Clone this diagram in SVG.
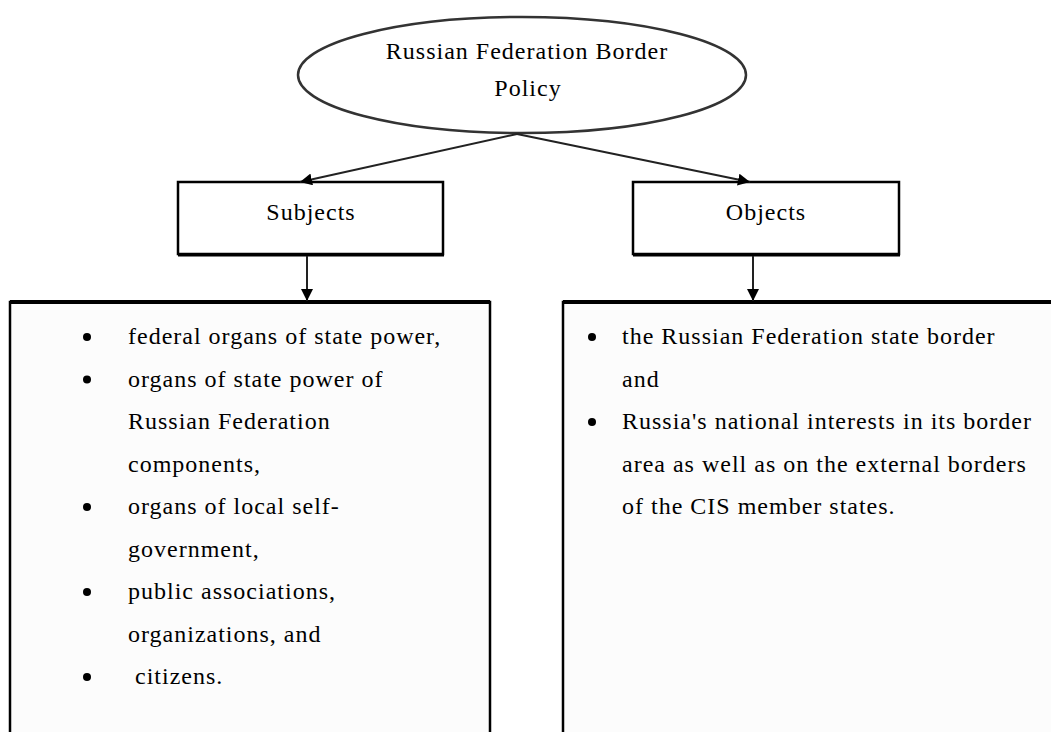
<svg xmlns="http://www.w3.org/2000/svg" width="1051" height="732" viewBox="0 0 1051 732">
<style>
  text { font-family: "Liberation Serif", "Times New Roman", serif; font-size: 24px; letter-spacing: 1px; fill: #000; }
  .c { text-anchor: middle; }
  .box { fill: #fff; stroke: #000; stroke-width: 2.5; }
  .edge { fill: none; stroke: #000; stroke-width: 2.5; }
  .conn { stroke: #222; stroke-width: 2; fill: none; }
  .bul { fill: #000; }
</style>
<defs>
  <marker id="ah" viewBox="0 0 10 10" refX="10" refY="5" markerWidth="6" markerHeight="6" markerUnits="strokeWidth" orient="auto">
    <path d="M0,0 L10,5 L0,10 z" fill="#000"/>
  </marker>
</defs>
<rect width="1051" height="732" fill="#fff"/>

<g id="policy">
  <ellipse cx="522" cy="75" rx="224" ry="58" fill="#fff" stroke="#333" stroke-width="2.5"/>
  <text x="527" y="59" class="c">Russian Federation Border</text>
  <text x="528" y="96" class="c">Policy</text>
</g>

<g id="subjects">
  <rect x="178" y="182" width="265" height="72" class="box"/>
  <line x1="178" y1="255" x2="444" y2="255" stroke="#000" stroke-width="3"/>
  <text x="311" y="220" class="c">Subjects</text>
</g>

<g id="objects">
  <rect x="633" y="182" width="266" height="72" class="box"/>
  <line x1="633" y1="255" x2="900" y2="255" stroke="#000" stroke-width="3"/>
  <text x="766" y="220" class="c">Objects</text>
</g>

<g id="subjects-list">
  <rect x="10" y="302" width="480" height="432" fill="#fcfcfc"/>
  <path d="M10,734 V302 H490 V734" class="edge"/>
  <line x1="10" y1="302" x2="490" y2="302" stroke="#000" stroke-width="4"/>
  <circle cx="87" cy="337" r="4" class="bul"/>
  <circle cx="87" cy="379.5" r="4" class="bul"/>
  <circle cx="87" cy="507" r="4" class="bul"/>
  <circle cx="87" cy="592" r="4" class="bul"/>
  <circle cx="87" cy="677" r="4" class="bul"/>
  <text x="128" y="344">federal organs of state power,</text>
  <text x="128" y="386.5">organs of state power of</text>
  <text x="128" y="429">Russian Federation</text>
  <text x="128" y="471.5">components,</text>
  <text x="128" y="514">organs of local self-</text>
  <text x="128" y="556.5">government,</text>
  <text x="128" y="599">public associations,</text>
  <text x="128" y="641.5">organizations, and</text>
  <text x="135" y="684">citizens.</text>
</g>

<g id="objects-list">
  <rect x="563" y="302" width="490" height="432" fill="#fcfcfc"/>
  <path d="M563,734 V302 H1053" class="edge"/>
  <line x1="563" y1="302" x2="1053" y2="302" stroke="#000" stroke-width="4"/>
  <circle cx="592" cy="337" r="4" class="bul"/>
  <circle cx="592" cy="422" r="4" class="bul"/>
  <text x="622" y="344">the Russian Federation state border</text>
  <text x="622" y="386.5">and</text>
  <text x="622" y="429">Russia's national interests in its border</text>
  <text x="622" y="471.5">area as well as on the external borders</text>
  <text x="622" y="514">of the CIS member states.</text>
</g>

<g id="connectors">
  <line x1="517" y1="134" x2="300" y2="182" class="conn" marker-end="url(#ah)"/>
  <line x1="517" y1="134" x2="750" y2="182" class="conn" marker-end="url(#ah)"/>
  <line x1="307" y1="256" x2="307" y2="301" class="conn" marker-end="url(#ah)"/>
  <line x1="753" y1="256" x2="753" y2="301" class="conn" marker-end="url(#ah)"/>
</g>
</svg>
